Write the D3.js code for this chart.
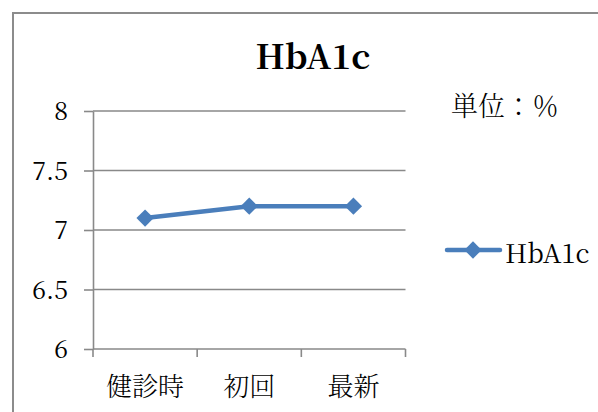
<!DOCTYPE html>
<html>
<head>
<meta charset="utf-8">
<script src="https://cdn.jsdelivr.net/npm/d3@7"></script>
<style>
  html, body { margin: 0; padding: 0; background: #fff; }
  svg { display: block; }
</style>
</head>
<body>
<svg id="chart" width="598" height="412"></svg>
<script>
const categories = ["健診時", "初回", "最新"];
const seriesName = "HbA1c";
const values = [7.1, 7.2, 7.2];
const yTicks = [6, 6.5, 7, 7.5, 8];
const yTickLabels = ["6", "6.5", "7", "7.5", "8"];
const titleText = "HbA1c";
const unitText = "単位：％";

const FONT = "\"Noto Serif CJK JP\"";

const svg = d3.select("#chart");
const W = 598, H = 412;
const plot = { left: 93, right: 405.5, top: 111, bottom: 349 };
const blue = "#4A7EBB";
const gray = "#898989";

// outer frame
svg.append("rect")
  .attr("x", 13).attr("y", 13)
  .attr("width", W + 20).attr("height", H + 20)
  .attr("fill", "none").attr("stroke", "#8c8c8c").attr("stroke-width", 2);

const x = d3.scaleBand().domain(categories).range([plot.left, plot.right]).padding(0);
const y = d3.scaleLinear().domain([6, 8]).range([plot.bottom, plot.top]);

// gridlines
svg.append("g").selectAll("line").data(yTicks.filter(d => d !== 6)).join("line")
  .attr("x1", plot.left).attr("x2", plot.right)
  .attr("y1", d => y(d)).attr("y2", d => y(d))
  .attr("stroke", gray).attr("stroke-width", 1.6);

// y axis
const yAxis = d3.axisLeft(y).tickValues(yTicks)
  .tickFormat((d, i) => yTickLabels[i]).tickSize(9).tickSizeOuter(0).tickPadding(16);
const gy = svg.append("g").attr("transform", `translate(${plot.left},0)`).call(yAxis);
gy.attr("font-family", null);
gy.select(".domain").attr("stroke", gray).attr("stroke-width", 1.6);
gy.selectAll(".tick line").attr("stroke", gray).attr("stroke-width", 1.6);
gy.selectAll(".tick text")
  .style("font-family", FONT).style("font-size", "25px")
  .attr("fill", "#000").attr("dy", "0.34em");

// x axis
const gx = svg.append("g");
gx.append("line")
  .attr("x1", plot.left).attr("x2", plot.right)
  .attr("y1", plot.bottom).attr("y2", plot.bottom)
  .attr("stroke", gray).attr("stroke-width", 1.6);
const edges = categories.map(c => x(c)).concat([x.range()[1]]);
gx.selectAll("line.tk").data(edges).join("line").attr("class", "tk")
  .attr("x1", d => d).attr("x2", d => d)
  .attr("y1", plot.bottom).attr("y2", plot.bottom + 8)
  .attr("stroke", gray).attr("stroke-width", 1.6);
gx.selectAll("text").data(categories).join("text")
  .attr("x", d => x(d) + x.bandwidth() / 2)
  .attr("y", 384)
  .attr("text-anchor", "middle").attr("dominant-baseline", "central")
  .style("font-family", FONT).style("font-size", "26px").style("font-weight", 300)
  .attr("fill", "#000")
  .text(d => d);

// series line
const pts = categories.map((c, i) => [x(c) + x.bandwidth() / 2, y(values[i])]);
svg.append("path")
  .attr("d", d3.line()(pts))
  .attr("fill", "none").attr("stroke", blue).attr("stroke-width", 4.5)
  .attr("stroke-linejoin", "round").attr("stroke-linecap", "round");

const diamond = d3.symbol().type(d3.symbolSquare).size(150);
svg.append("g").selectAll("path").data(pts).join("path")
  .attr("d", diamond())
  .attr("transform", d => `translate(${d[0]},${d[1]}) rotate(45)`)
  .attr("fill", blue);

// title
svg.append("text")
  .attr("x", 313).attr("y", 69)
  .attr("text-anchor", "middle")
  .style("font-family", FONT).style("font-size", "34px").style("font-weight", "bold")
  .attr("fill", "#000")
  .text(titleText);

// unit label
svg.append("text")
  .attr("x", 451).attr("y", 104)
  .attr("dominant-baseline", "central")
  .style("font-family", FONT).style("font-size", "27px").style("font-weight", 300)
  .attr("fill", "#000")
  .text(unitText);

// legend
const lg = svg.append("g").attr("transform", "translate(0,250)");
lg.append("line").attr("x1", 447).attr("x2", 500).attr("y1", 0).attr("y2", 0)
  .attr("stroke", blue).attr("stroke-width", 4.5).attr("stroke-linecap", "round");
lg.append("path").attr("d", diamond())
  .attr("transform", "translate(473,0) rotate(45)").attr("fill", blue);
lg.append("text").attr("x", 505).attr("y", 0)
  .attr("dominant-baseline", "central").attr("dy", "0.05em")
  .style("font-family", FONT).style("font-size", "26px")
  .attr("fill", "#000")
  .text(seriesName);
</script>
</body>
</html>
